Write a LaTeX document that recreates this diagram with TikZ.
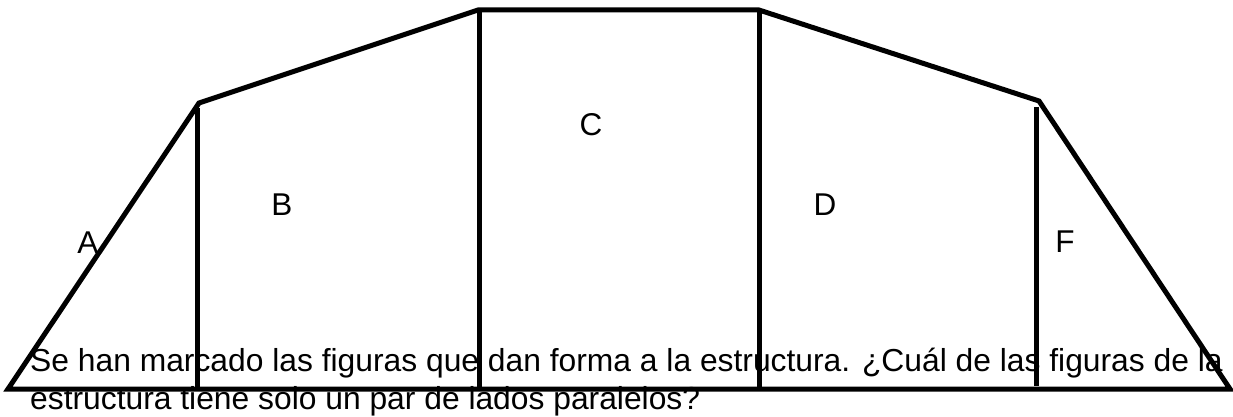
\documentclass[tikz,border=0pt]{standalone}
\usepackage{fontspec}
\setmainfont{Liberation Sans}
\begin{document}
\begin{tikzpicture}[x=1pt,y=-1pt,
  edge/.style={line width=5pt,line join=miter,black},
  lbl/.style={font=\fontsize{31.5}{36}\selectfont,inner sep=0pt},
  txt/.style={font=\fontsize{31.8}{36}\selectfont,inner sep=0pt,anchor=base west}]
\useasboundingbox (0,0) rectangle (1233,417);
% labels and text
\node[lbl] (A) at (88,243) {A};
\node[lbl] (B) at (282,205) {B};
\node[lbl] (C) at (591,125) {C};
\node[lbl] (D) at (825,205) {D};
\node[lbl] (F) at (1065,242) {F};
\node[txt] (t1) at (30,371) {Se han marcado las figuras que dan forma a la estructura. ¿Cuál de las figuras de la};
\node[txt] (t2) at (30,409) {estructura tiene solo un par de lados paralelos?};
% vertices
\coordinate (p1) at (8,389);
\coordinate (p2) at (199,103);
\coordinate (p3) at (478,10);
\coordinate (p4) at (759,10);
\coordinate (p5) at (1039,101);
\coordinate (p6) at (1230,389);
\coordinate (v1t) at (197,108);
\coordinate (v1b) at (197,389);
\coordinate (v2b) at (479,389);
\coordinate (v2t) at (479,10);
\coordinate (v3t) at (759,10);
\coordinate (v3b) at (759,389);
\coordinate (v4t) at (1036,107);
\coordinate (v4b) at (1036,386);
\draw[edge] (p1) -- (p2) -- (p3) -- (p4) -- (p5) -- (p6) -- cycle;
\draw[edge] (v1t) -- (v1b);
\draw[edge] (v2t) -- (v2b);
\draw[edge] (v3t) -- (v3b);
\draw[edge] (v4t) -- (v4b);
\end{tikzpicture}
\end{document}
